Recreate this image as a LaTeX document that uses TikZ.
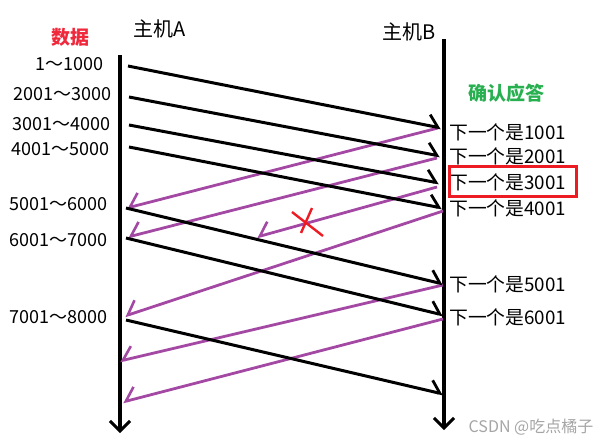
\documentclass[tikz,border=0pt]{standalone}
\usepackage{fontspec}
\setmainfont{Noto Sans CJK SC}
\usetikzlibrary{arrows.meta}
\definecolor{ackpurple}{RGB}{163,73,164}
\definecolor{xred}{RGB}{237,28,36}
\definecolor{titlered}{RGB}{240,40,60}
\definecolor{ackgreen}{RGB}{40,175,80}
\definecolor{wmgray}{RGB}{165,165,165}
\tikzset{
  lifeline/.style={line width=3.2pt, -{Straight Barb[length=10pt, width=20pt, line width=3pt]}},
  datamsg/.style={line width=3pt, black, -{Straight Barb[left, length=10pt, width=22pt, line width=2.8pt]}},
  ackmsg/.style={line width=2.8pt, ackpurple, -{Straight Barb[right, length=11pt, width=24pt, line width=2.6pt]}},
  hosttxt/.style={font=\fontsize{20}{24}\selectfont, inner sep=0pt},
  seqtxt/.style={font=\fontsize{18}{22}\selectfont, inner sep=0pt},
  acktxt/.style={font=\fontsize{18.8}{22}\selectfont, inner sep=0pt},
  headtxt/.style={font=\fontsize{19}{23}\selectfont\bfseries, inner sep=0pt},
}
\begin{document}
\begin{tikzpicture}[x=1pt, y=-1pt]
\useasboundingbox (0,0) rectangle (614,445);

% lifelines
\coordinate (Atop) at (120,55);
\coordinate (Abot) at (120,433);
\coordinate (Btop) at (444,39);
\coordinate (Bbot) at (444,430);
\draw[lifeline] (Atop) -- (Abot);
\draw[lifeline] (Btop) -- (Bbot);

% headings
\node[hosttxt] (hA) at (160,29) {主机A};
\node[hosttxt] (hB) at (409,32) {主机B};
\node[headtxt, text=titlered] (hdata) at (71,37) {数据};
\node[headtxt, text=ackgreen] (hack) at (506,93) {确认应答};

% data labels
\node[seqtxt, anchor=east] (d1) at (104,64) {1～1000};
\node[seqtxt, anchor=east] (d2) at (112,94) {2001～3000};
\node[seqtxt, anchor=east] (d3) at (111,124) {3001～4000};
\node[seqtxt, anchor=east] (d4) at (110,149) {4001～5000};
\node[seqtxt, anchor=east] (d5) at (108,204) {5001～6000};
\node[seqtxt, anchor=east] (d6) at (108,240) {6001～7000};
\node[seqtxt, anchor=east] (d7) at (108,317) {7001～8000};

% ack labels
\node[acktxt, anchor=west] (a1) at (449,132) {下一个是1001};
\node[acktxt, anchor=west] (a2) at (449,156) {下一个是2001};
\node[acktxt, anchor=west] (a3) at (449,182) {下一个是3001};
\node[acktxt, anchor=west] (a4) at (449,208) {下一个是4001};
\node[acktxt, anchor=west] (a5) at (449,284) {下一个是5001};
\node[acktxt, anchor=west] (a6) at (449,317) {下一个是6001};

% red highlight box
\coordinate (boxA) at (449,166);
\coordinate (boxB) at (576,196);
\draw[xred, line width=3pt] (boxA) rectangle (boxB);

% data segment endpoints
\coordinate (s1) at (128,66);  \coordinate (e1) at (441,128);
\coordinate (s2) at (129,97);  \coordinate (e2) at (440,156);
\coordinate (s3) at (129,125); \coordinate (e3) at (439,183);
\coordinate (s4) at (129,147); \coordinate (e4) at (442,208);
\coordinate (s5) at (126,208); \coordinate (e5) at (443,284);
\coordinate (s6) at (126,238); \coordinate (e6) at (443,315);
\coordinate (s7) at (126,320); \coordinate (e7) at (443,394);

% ack endpoints
\coordinate (k1) at (438,128); \coordinate (r1) at (127,208);
\coordinate (k2) at (437,158); \coordinate (r2) at (128,237);
\coordinate (k3) at (437,187); \coordinate (r3) at (257,237);
\coordinate (k4) at (443,211); \coordinate (r4) at (125,316);
\coordinate (k5) at (443,285); \coordinate (r5) at (120,361);
\coordinate (k6) at (443,319); \coordinate (r6) at (123,402);

% acks (drawn first, under data lines)
\foreach \i in {1,...,6}{
  \draw[ackmsg] (k\i) -- (r\i);
}
% data
\foreach \i in {1,...,7}{
  \draw[datamsg] (s\i) -- (e\i);
}

% lost ack cross
\coordinate (x1a) at (292,212); \coordinate (x1b) at (323,236);
\coordinate (x2a) at (312,208); \coordinate (x2b) at (301,233);
\draw[xred, line width=2.4pt] (x1a) -- (x1b);
\draw[xred, line width=2.4pt] (x2a) -- (x2b);

% watermark
\node[font=\fontsize{16}{19}\selectfont, text=wmgray, inner sep=0pt] (wm) at (531,427) {CSDN @吃点橘子};
\end{tikzpicture}
\end{document}
